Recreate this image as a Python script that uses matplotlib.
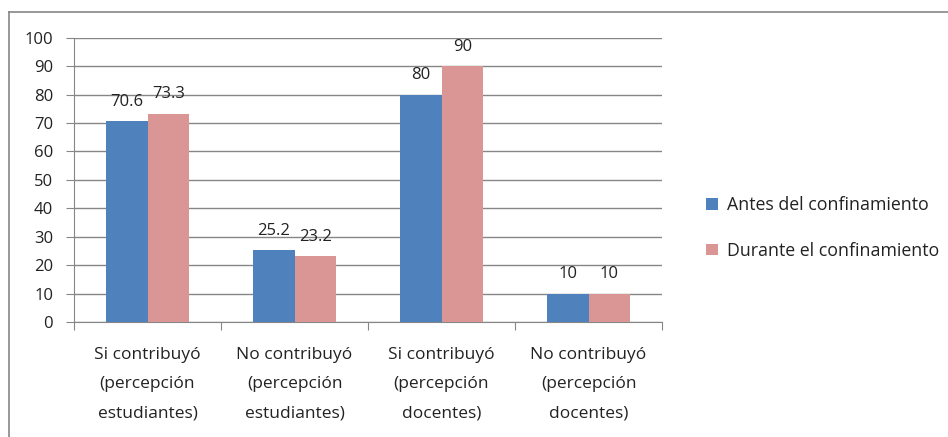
import numpy as np
import matplotlib.pyplot as plt
from matplotlib.lines import Line2D

plt.rcParams['font.family'] = ['Open Sans', 'DejaVu Sans']

categorias = ["Si contribuyó\n(percepción\nestudiantes)",
              "No contribuyó\n(percepción\nestudiantes)",
              "Si contribuyó\n(percepción\ndocentes)",
              "No contribuyó\n(percepción\ndocentes)"]
antes = [70.6, 25.2, 80, 10]
durante = [73.3, 23.2, 90, 10]
series = ["Antes del confinamiento", "Durante el confinamiento"]
colores = ["#4F81BD", "#D99694"]
gris = "#868686"
txt = "#222222"
fs = 12

fig = plt.figure(figsize=(9.48, 4.37), dpi=100)
ax = fig.add_axes([74/948, 1 - 322/437, (662 - 74)/948, (322 - 37.7)/437])

x = np.arange(len(categorias))
w = 0.285
for off, vals, nombre, c in [(-w/2, antes, series[0], colores[0]),
                             (w/2, durante, series[1], colores[1])]:
    ax.bar(x + off, vals, w, color=c, label=nombre, zorder=3)
    for xi, v in zip(x + off, vals):
        ax.annotate(f"{v:g}", (xi, v), xytext=(0, 11), textcoords="offset points",
                    ha="center", va="baseline", fontsize=fs, color=txt)

ax.set_xlim(-0.5, len(categorias) - 0.5)
ax.set_ylim(0, 100)
ax.set_yticks(range(0, 101, 10))
ax.grid(axis="y", color=gris, lw=1, zorder=0)

# category boundaries carry the x tick marks, labels sit in the middle
ax.set_xticks(np.arange(-0.5, len(categorias)), minor=False)
ax.set_xticklabels([])
ax.set_xticks(x, minor=True)
ax.set_xticklabels(categorias, minor=True, fontsize=12.5, linespacing=2.12, color=txt)
ax.tick_params(axis="x", which="major", length=6, color=gris, direction="out")
ax.tick_params(axis="x", which="minor", length=0, pad=18)
ax.tick_params(axis="y", length=6, color=gris, labelsize=fs, labelcolor=txt, pad=9)

for s in ["top", "right"]:
    ax.spines[s].set_visible(False)
for s in ["left", "bottom"]:
    ax.spines[s].set_color(gris)

fig.legend(loc="center left", bbox_to_anchor=(690/948, 1 - 228/437), frameon=False,
           fontsize=12.8, handlelength=0.65, handleheight=0.65, handletextpad=0.55,
           labelspacing=1.55, labelcolor=txt)

# outer chart frame
fig.add_artist(Line2D([8.5/948, 8.5/948], [0, 1 - 11.5/437], color=gris, lw=1.2))
fig.add_artist(Line2D([8.5/948, 1], [1 - 11.5/437, 1 - 11.5/437], color=gris, lw=1.2))

fig.savefig("out.png", dpi=100)
